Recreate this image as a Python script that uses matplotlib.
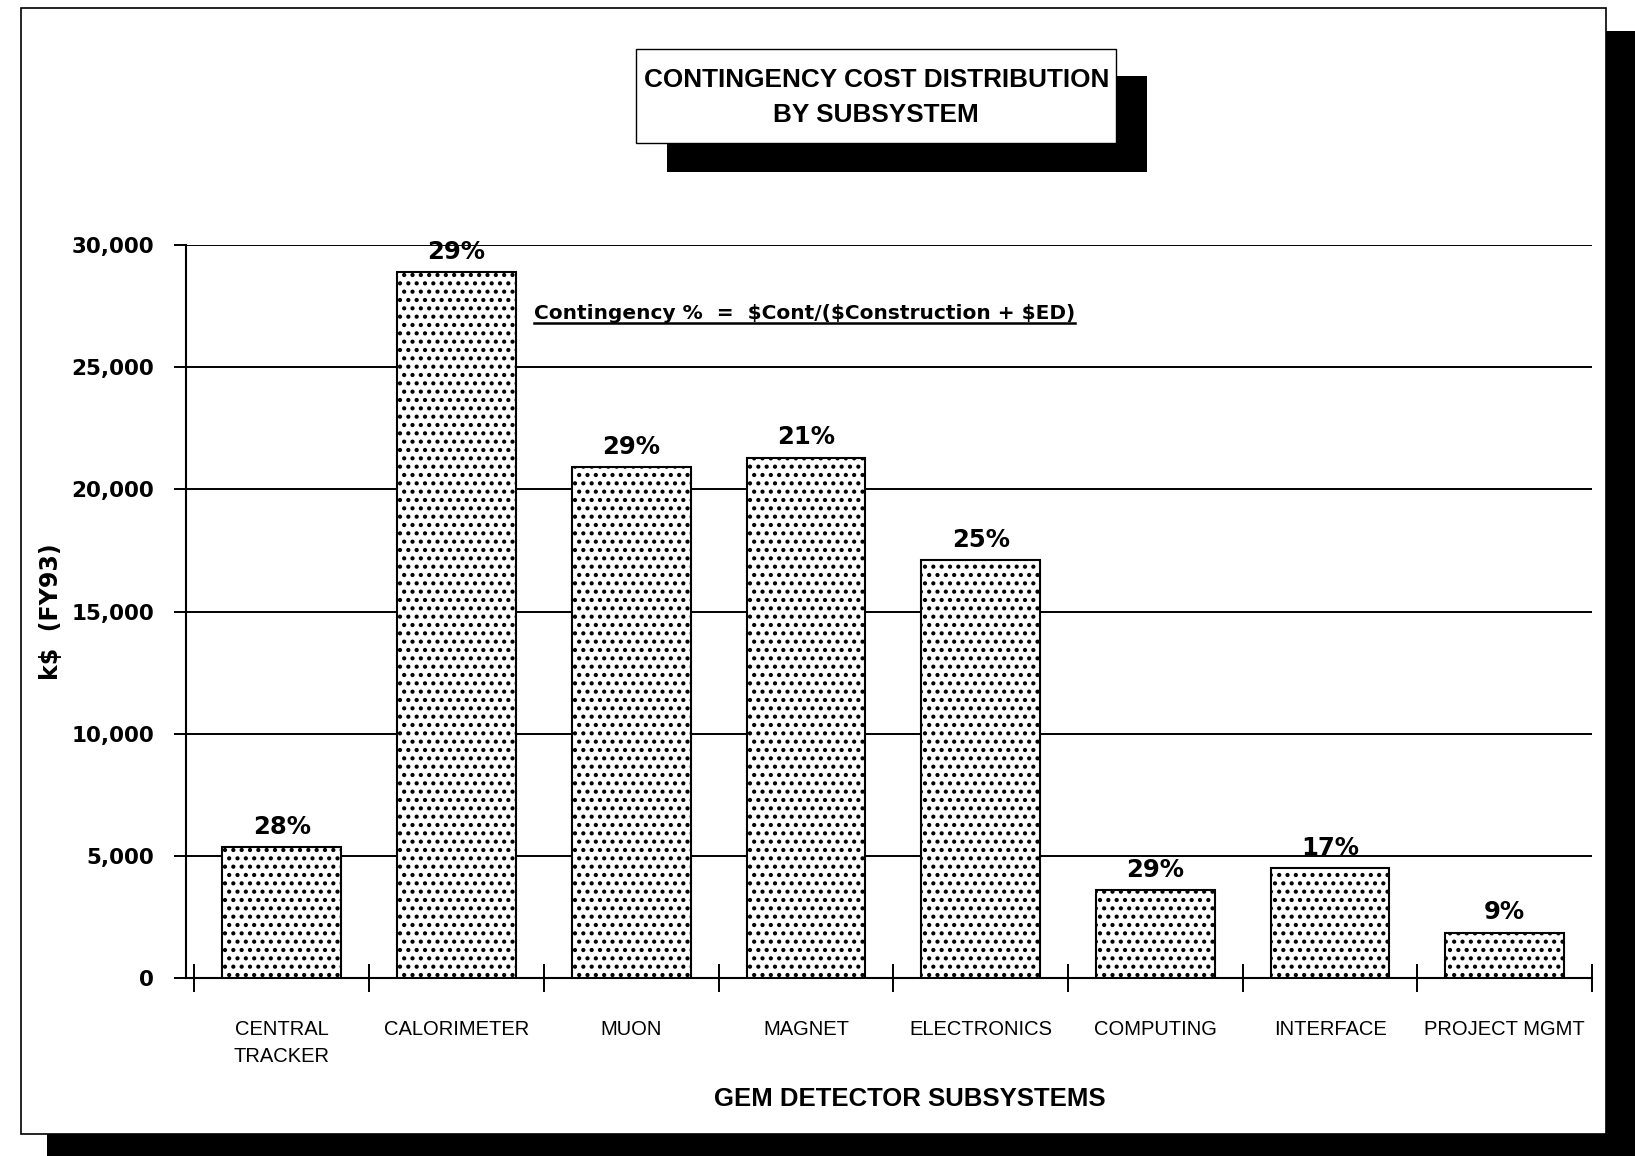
import numpy as np
import matplotlib
matplotlib.use("Agg")
import matplotlib.pyplot as plt
from matplotlib.patches import Rectangle
from matplotlib.lines import Line2D
from matplotlib.ticker import FuncFormatter

# GEM contingency cost by subsystem, k$ (FY93)
subsystems = ["CENTRAL\nTRACKER", "CALORIMETER", "MUON", "MAGNET",
              "ELECTRONICS", "COMPUTING", "INTERFACE", "PROJECT MGMT"]
contingency_k = [5350, 28900, 20900, 21300, 17100, 3600, 4500, 1850]
contingency_pct = ["28%", "29%", "29%", "21%", "25%", "29%", "17%", "9%"]
y_ticks = [0, 5000, 10000, 15000, 20000, 25000, 30000]

plt.rcParams["hatch.linewidth"] = 1.8

fig = plt.figure(figsize=(16.35, 11.56), dpi=100)
fig.patch.set_facecolor("white")

# page frame with drop shadow
fig.patches.append(Rectangle((0.9823, 0.0), 0.0177, 0.973, transform=fig.transFigure,
                             facecolor="black", edgecolor="none", zorder=0))
fig.patches.append(Rectangle((0.0287, 0.0), 0.9713, 0.019, transform=fig.transFigure,
                             facecolor="black", edgecolor="none", zorder=0))
fig.patches.append(Rectangle((0.0128, 0.019), 0.9695, 0.974, transform=fig.transFigure,
                             facecolor="white", edgecolor="black", lw=1.2, zorder=1))

# title box with shadow
fig.patches.append(Rectangle((0.408, 0.8512), 0.2936, 0.083, transform=fig.transFigure,
                             facecolor="black", edgecolor="none", zorder=2))
fig.patches.append(Rectangle((0.389, 0.8763), 0.2936, 0.0813, transform=fig.transFigure,
                             facecolor="white", edgecolor="black", lw=1.0, zorder=3))
fig.text(0.536, 0.9155, "CONTINGENCY COST DISTRIBUTION\nBY SUBSYSTEM", ha="center", va="center",
         fontsize=18.8, fontweight="bold", family="Liberation Sans", linespacing=1.55, zorder=4)

ax = fig.add_axes([0.1138, 0.154, 0.86, 0.634])
ax.set_facecolor("none")
ax.set_zorder(5)

x = np.arange(len(subsystems))
ax.bar(x, contingency_k, width=0.68, facecolor="white", edgecolor="black",
       lw=1.5, hatch="..", zorder=3)

for xi, v, p in zip(x, contingency_k, contingency_pct):
    ax.annotate(p, (xi, v), xytext=(0, 6), textcoords="offset points",
                ha="center", va="bottom", fontsize=17.5, fontweight="bold",
                family="DejaVu Sans")

ax.set_xlim(-0.548, len(subsystems) - 0.5)
ax.set_ylim(0, 30000)
ax.set_yticks(y_ticks)
ax.yaxis.set_major_formatter(FuncFormatter(lambda v, p: f"{int(v):,}"))
ax.grid(axis="y", color="black", lw=1.4, zorder=0)
ax.set_axisbelow(True)

for s in ("top", "right"):
    ax.spines[s].set_visible(False)
for s in ("left", "bottom"):
    ax.spines[s].set_linewidth(1.5)

ax.tick_params(axis="y", direction="out", length=9, width=1.4, pad=14,
               labelsize=15.5)
for lbl in ax.get_yticklabels():
    lbl.set_fontweight("bold")
    lbl.set_family("DejaVu Sans")

# category boundaries as crossing ticks, names under each bar
ax.set_xticks(np.arange(-0.5, len(subsystems), 1))
ax.set_xticklabels([])
ax.tick_params(axis="x", which="major", direction="inout", length=20, width=1.4)
ax.set_xticks(x, minor=True)
ax.set_xticklabels(subsystems, minor=True, fontsize=14.5, family="Liberation Sans",
                   linespacing=1.55, va="top")
ax.tick_params(axis="x", which="minor", length=0, pad=30)

ax.set_xlabel("GEM DETECTOR SUBSYSTEMS", fontsize=18.5, fontweight="bold",
              family="Liberation Sans")
ax.xaxis.set_label_coords(0.515, -0.149)
ax.set_ylabel(r"k\$  (FY93)", fontsize=17, fontweight="bold", family="DejaVu Sans",
              labelpad=6)

note = ax.text(0.2475, 0.899, r"Contingency %  =  \$Cont/(\$Construction + \$ED)",
               transform=ax.transAxes, ha="left", va="baseline", fontsize=14.5,
               fontweight="bold", family="DejaVu Sans")

# underline the note
fig.canvas.draw()
bb = note.get_window_extent()
base_y = ax.transAxes.transform((0.2475, 0.899))[1] - 4
inv = fig.transFigure.inverted()
(x0, y0), (x1, _) = inv.transform([(bb.x0, base_y), (bb.x1, base_y)])
fig.add_artist(Line2D([x0, x1], [y0, y0], transform=fig.transFigure,
                      color="black", lw=1.8, zorder=10))

fig.savefig("out.png", dpi=100)
